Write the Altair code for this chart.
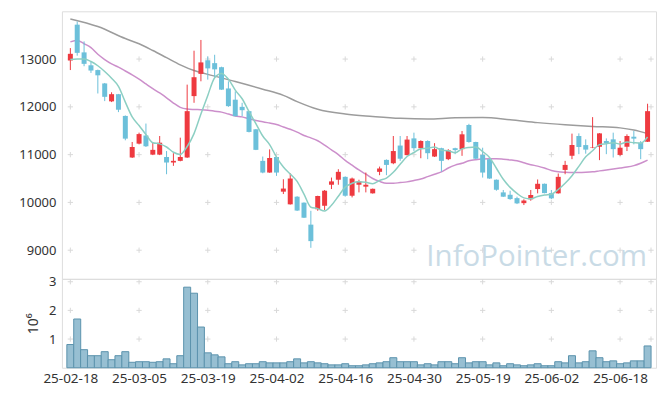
import altair as alt
import pandas as pd

# ---- data ----
opens = [12970, 13720, 13140, 12870, 12770, 12490, 12115, 12265, 11810, 10940,
         11230, 11400, 11000, 11000, 10950, 10835, 10870, 10940, 12225, 12690,
         12975, 12915, 12830, 12385, 12150, 12000, 11910, 11530, 10870, 10625,
         10950, 10225, 9960, 10120, 9995, 9535, 9855, 9930, 10370, 10475,
         10535, 10140, 10370, 10330, 10190, 10640, 10890, 10820, 11190, 10990,
         11340, 11135, 11285, 10960, 11135, 10905, 11135, 11115, 11620, 11265,
         10995, 10905, 10475, 10210, 10160, 10090, 9985, 10065, 10280, 10390,
         10195, 10190, 10680, 10975, 11390, 11200, 11140, 11165, 11285, 11320,
         10995, 11165, 11375, 11250, 11270]
highs = [13230, 13785, 13370, 12950, 12780, 12500, 12305, 12270, 11820, 11265,
         11460, 11650, 11250, 11390, 11075, 11030, 11355, 12465, 13175, 13400,
         13055, 13090, 12840, 12535, 12325, 12085, 11915, 11535, 10960, 11110,
         10960, 10485, 10610, 10130, 10000, 9825, 10140, 10260, 10520, 10695,
         10545, 10520, 10475, 10625, 10290, 10750, 10900, 11390, 11390, 11390,
         11460, 11300, 11300, 11240, 11145, 11115, 11145, 11495, 11645, 11270,
         11145, 10910, 10480, 10260, 10245, 10120, 10065, 10260, 10480, 10395,
         10260, 10605, 10870, 11440, 11445, 11320, 11785, 11450, 11340, 11460,
         11285, 11425, 11495, 11285, 12065]
lows = [12770, 13071, 12850, 12710, 12280, 12120, 12100, 11890, 11300, 10930,
        11215, 11160, 10990, 10990, 10590, 10765, 10860, 10930, 12085, 12535,
        12570, 12605, 12355, 12000, 11800, 11805, 11465, 11095, 10610, 10620,
        10555, 10175, 9955, 9820, 9675, 9050, 9825, 9840, 10280, 10370,
        10120, 10105, 10210, 10210, 10185, 10570, 10570, 10800, 10870, 10985,
        11075, 10925, 10905, 10950, 10645, 10885, 11010, 10975, 11250, 10905,
        10520, 10495, 10245, 10115, 10055, 9965, 9945, 10035, 10190, 10190,
        10070, 10185, 10590, 10905, 11010, 11020, 11135, 10885, 11010, 10940,
        10975, 11075, 11215, 10905, 11265]
closes = [13110, 13130, 12900, 12760, 12660, 12210, 12265, 11940, 11335, 11160,
          11430, 11175, 11100, 11250, 10835, 10870, 10950, 11910, 12620, 12930,
          12805, 12785, 12360, 12015, 11805, 11930, 11475, 11100, 10625, 10930,
          10625, 10290, 10500, 9830, 9680, 9190, 10135, 10245, 10440, 10640,
          10140, 10500, 10440, 10370, 10285, 10710, 10785, 11075, 10915, 11315,
          11135, 11285, 11030, 11115, 10870, 11090, 11095, 11425, 11265, 10915,
          10625, 10500, 10265, 10120, 10070, 9980, 10040, 10155, 10390, 10195,
          10085, 10535, 10785, 11200, 11160, 11105, 11150, 11445, 11240, 11115,
          11145, 11390, 11335, 11115, 11910]
# volume in millions of shares
volumes_m = [0.81, 1.70, 0.63, 0.42, 0.42, 0.56, 0.28, 0.42, 0.56, 0.19,
             0.21, 0.21, 0.19, 0.21, 0.31, 0.14, 0.42, 2.81, 2.60, 1.42,
             0.52, 0.45, 0.38, 0.14, 0.21, 0.10, 0.14, 0.14, 0.21, 0.17,
             0.17, 0.17, 0.21, 0.31, 0.17, 0.21, 0.17, 0.14, 0.10, 0.10,
             0.14, 0.07, 0.07, 0.10, 0.14, 0.17, 0.21, 0.35, 0.21, 0.21,
             0.21, 0.10, 0.14, 0.10, 0.21, 0.21, 0.14, 0.35, 0.17, 0.21,
             0.21, 0.10, 0.17, 0.07, 0.14, 0.10, 0.07, 0.10, 0.14, 0.07,
             0.07, 0.21, 0.17, 0.42, 0.17, 0.21, 0.59, 0.35, 0.21, 0.24,
             0.14, 0.17, 0.24, 0.24, 0.76]
ma5 = [12990, 13000, 13000, 12950, 12860, 12740, 12600, 12430, 12100, 11790,
       11610, 11420, 11250, 11225, 11160, 11050, 11005, 11170, 11440, 11850,
       12240, 12610, 12700, 12580, 12350, 12170, 11900, 11650, 11390, 11210,
       10950, 10740, 10595, 10440, 10175, 9900, 9870, 9820, 9940, 10130,
       10320, 10400, 10430, 10420, 10390, 10460, 10510, 10630, 10800, 10960,
       11045, 11125, 11135, 11160, 11090, 11080, 11040, 11120, 11150, 11160,
       11065, 10940, 10715, 10485, 10315, 10190, 10095, 10075, 10125, 10155,
       10170, 10270, 10400, 10560, 10755, 10955, 11080, 11210, 11230, 11250,
       11220, 11265, 11250, 11240, 11370]
ma20 = [13360, 13390, 13320, 13240, 13100, 12990, 12900, 12830, 12750, 12670,
        12580, 12480, 12380, 12290, 12190, 12080, 11990, 11955, 11945, 11940,
        11930, 11910, 11890, 11850, 11810, 11790, 11750, 11715, 11690, 11660,
        11630, 11580, 11530, 11470, 11400, 11350, 11290, 11200, 11100, 11000,
        10880, 10780, 10680, 10590, 10500, 10440, 10400, 10400, 10415, 10430,
        10460, 10490, 10540, 10590, 10640, 10720, 10780, 10820, 10870, 10895,
        10910, 10915, 10915, 10905, 10890, 10870, 10830, 10790, 10760, 10720,
        10670, 10640, 10630, 10625, 10625, 10630, 10640, 10660, 10680, 10700,
        10720, 10740, 10770, 10820, 10885]
ma60_idx = [0, 4, 8, 10, 12, 14, 16, 18, 20, 24, 28, 31, 33, 36, 40, 44, 48,
            52, 56, 60, 64, 68, 72, 76, 80, 82, 84]
ma60 = [13840, 13680, 13430, 13320, 13180, 13030, 12880, 12760, 12680, 12530,
        12370, 12240, 12110, 11950, 11850, 11800, 11760, 11745, 11770, 11775,
        11730, 11670, 11625, 11590, 11560, 11515, 11440]

x_tick_idx = [0, 10, 20, 30, 40, 50, 60, 70, 80]
x_tick_labels = ["25-02-18", "25-03-05", "25-03-19", "25-04-02", "25-04-16",
                 "25-04-30", "25-05-19", "25-06-02", "25-06-18"]
price_ticks = [9000, 10000, 11000, 12000, 13000]
vol_ticks = [1, 2, 3]

# ---- styling ----
RED = "#ee3a40"
BLUE = "#6cc0da"
FONT = "Noto Sans"
W = 595
H_PRICE = 268
H_VOL = 89

n = len(closes)
df = pd.DataFrame({"i": list(range(n)), "open": opens, "high": highs,
                   "low": lows, "close": closes, "vol": volumes_m,
                   "ma5": ma5, "ma20": ma20})
df60 = pd.DataFrame({"i": ma60_idx, "ma60": ma60})

grid_x = x_tick_idx + [n - 0.5]
grid_price = pd.DataFrame([(gx, gy) for gx in grid_x for gy in price_ticks],
                          columns=["gx", "gy"])
grid_vol = pd.DataFrame([(gx, gy) for gx in grid_x for gy in vol_ticks],
                        columns=["gx", "gy"])

xscale = alt.Scale(domain=[-0.5, n - 0.5], nice=False, zero=False)
pscale = alt.Scale(domain=[8400, 14000], nice=False, zero=False)
vscale = alt.Scale(domain=[0, 3.1], nice=False)

label_expr = "[" + ",".join("'%s'" % s for s in x_tick_labels) + "][round(datum.value/10)]"

candle_color = alt.condition("datum.close >= datum.open", alt.value(RED), alt.value(BLUE))

cross_shape = "M-1,0H1M0,-1V1"

base = alt.Chart(df)

price_grid = alt.Chart(grid_price).mark_point(
    shape=cross_shape, filled=False, size=28, strokeWidth=1, color="#d9d9d9", opacity=1
).encode(
    x=alt.X("gx:Q", scale=xscale, axis=None),
    y=alt.Y("gy:Q", scale=pscale,
            axis=alt.Axis(values=price_ticks, format="d", grid=False, ticks=False,
                          domain=False, labelFont=FONT, labelFontSize=13,
                          labelColor="#333333", labelPadding=6, minExtent=48,
                          maxExtent=48, title=None)),
)

watermark = alt.Chart(pd.DataFrame({"t": ["InfoPointer.com"]})).mark_text(
    font="Open Sans", fontSize=29.5, color="#c9dbe6", align="right", baseline="alphabetic"
).encode(text="t:N", x=alt.value(586), y=alt.value(255))

ma60_line = alt.Chart(df60).mark_line(color="#9c9c9c", strokeWidth=1.5, interpolate="monotone").encode(
    x=alt.X("i:Q", scale=xscale), y=alt.Y("ma60:Q", scale=pscale))
ma20_line = base.mark_line(color="#cc8fcb", strokeWidth=1.5, interpolate="monotone").encode(
    x=alt.X("i:Q", scale=xscale), y=alt.Y("ma20:Q", scale=pscale))
ma5_line = base.mark_line(color="#8ccfc3", strokeWidth=1.5, interpolate="monotone").encode(
    x=alt.X("i:Q", scale=xscale), y=alt.Y("ma5:Q", scale=pscale))

wicks = base.mark_rule(strokeWidth=1).encode(
    x=alt.X("i:Q", scale=xscale),
    y=alt.Y("low:Q", scale=pscale), y2="high:Q",
    color=candle_color)
bodies = base.mark_bar(size=5).encode(
    x=alt.X("i:Q", scale=xscale),
    y=alt.Y("open:Q", scale=pscale), y2="close:Q",
    color=candle_color)

price = alt.layer(price_grid, watermark, ma60_line, ma20_line, wicks, bodies, ma5_line).properties(
    width=W, height=H_PRICE)

vol_grid = alt.Chart(grid_vol).mark_point(
    shape=cross_shape, filled=False, size=28, strokeWidth=1, color="#d9d9d9", opacity=1
).encode(
    x=alt.X("gx:Q", scale=xscale,
            axis=alt.Axis(values=x_tick_idx, labelExpr=label_expr, grid=False, ticks=False,
                          domain=False, labelFont=FONT, labelFontSize=13.5,
                          labelColor="#333333", labelPadding=4, labelFlush=False,
                          title=None)),
    y=alt.Y("gy:Q", scale=vscale,
            axis=alt.Axis(values=vol_ticks, format="d", grid=False, ticks=False,
                          domain=False, labelFont=FONT, labelFontSize=13,
                          labelColor="#333333", labelPadding=6,
                          title="10⁶", titleFont=FONT, titleFontSize=14,
                          titleFontWeight="normal", titleColor="#333333",
                          titlePadding=8)),
)
vol_bars = base.mark_bar(size=7, color="#97bfd2", stroke="#5b93ad", strokeWidth=1).encode(
    x=alt.X("i:Q", scale=xscale),
    y=alt.Y("vol:Q", scale=vscale))

volume = alt.layer(vol_grid, vol_bars).properties(width=W, height=H_VOL)

chart = alt.vconcat(price, volume, spacing=0, bounds="flush").properties(
    padding={"left": 5, "top": 2, "right": 0, "bottom": 0}
).configure_view(stroke="#e3e3e3").configure(background="white")

chart.save("out.html", embed_options={"renderer": "svg", "actions": False})
